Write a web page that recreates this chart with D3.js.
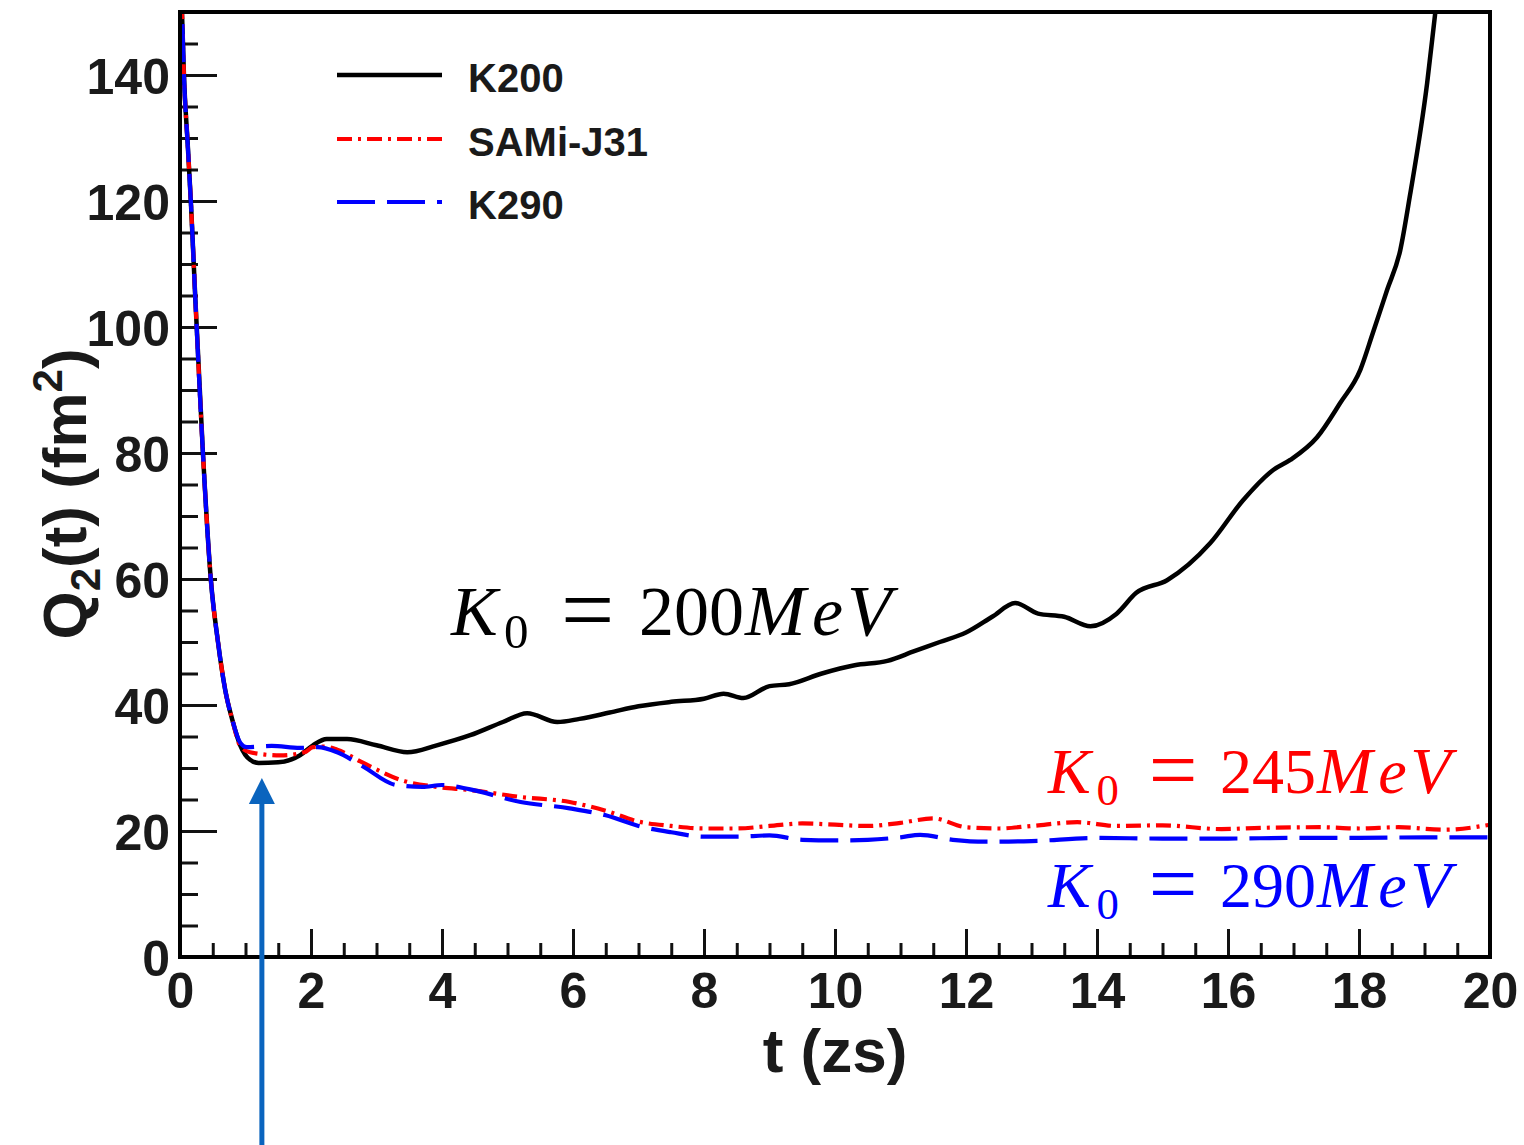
<!DOCTYPE html>
<html>
<head>
<meta charset="utf-8">
<script src="https://cdn.jsdelivr.net/npm/d3@7"></script>
<style>
  html, body { margin: 0; padding: 0; background: #fff; }
  svg { display: block; }
</style>
</head>
<body>
<svg id="chart" width="1524" height="1145"></svg>
<script>
// Quadrupole moment Q2(t) versus time for three equations of state
const seriesNames = ["K200", "SAMi-J31", "K290"];

const tK200 = [0, 0.03, 0.06, 0.12, 0.17, 0.23, 0.35, 0.47, 0.58, 0.69, 0.8, 0.92, 1.07, 1.2, 1.5,
  1.83, 2.03, 2.24, 2.55, 3.0, 3.47, 3.92, 4.43, 4.93, 5.3, 5.76, 6.1, 6.56, 7.0, 7.5, 8.0, 8.3,
  8.6, 9.0, 9.3, 9.8, 10.3, 10.8, 11.2, 11.6, 12.0, 12.4, 12.75, 13.1, 13.5, 13.9, 14.3, 14.6,
  15.07, 15.73, 16.23, 16.69, 16.95, 17.36, 17.71, 18.02, 18.21, 18.43, 18.63, 18.78, 19.04, 19.16, 19.3];
const qK200 = [156, 150, 140, 128.6, 119, 105.4, 80, 60, 50, 42.4, 37.6, 33.6, 31.3, 30.8, 30.9,
  32, 33.6, 34.6, 34.6, 33.6, 32.5, 33.6, 35.2, 37.3, 38.7, 37.3, 37.8, 38.8, 39.8, 40.5, 41, 41.8,
  41.1, 43, 43.3, 45, 46.3, 47, 48.5, 50, 51.5, 54, 56.2, 54.5, 54, 52.5, 54.5, 57.8,
  59.8, 65.7, 72.5, 77.3, 78.9, 82.5, 87.9, 93.2, 99, 105.9, 112.2, 121, 138.7, 149.5, 162];

const tSAMi = [0, 0.03, 0.06, 0.12, 0.17, 0.23, 0.35, 0.47, 0.58, 0.69, 0.8, 0.92, 1.07, 1.53,
  1.9, 2.03, 2.2, 2.4, 2.8, 3.4, 3.92, 4.43, 5.2, 5.95, 6.5, 7.0, 7.5, 8.0, 8.5, 9.0, 9.5, 10.0,
  10.5, 11.0, 11.5, 12.0, 12.5, 13.0, 13.7, 14.3, 15.0, 15.9, 16.5, 17.4, 18.0, 18.6, 19.3, 20];
const qSAMi = [156, 150, 140, 128.6, 119, 105.4, 80, 60, 50, 42.4, 37.6, 33.5, 32.5, 32,
  32.5, 33.3, 33.4, 32.9, 30.8, 28, 27, 26.5, 25.4, 24.6, 23.2, 21.5, 20.8, 20.4, 20.4, 20.8, 21.2, 21,
  20.8, 21.3, 22, 20.6, 20.4, 20.8, 21.4, 20.8, 20.9, 20.3, 20.5, 20.6, 20.4, 20.6, 20.2, 21];

const tK290 = [0, 0.03, 0.06, 0.12, 0.17, 0.23, 0.35, 0.47, 0.58, 0.69, 0.8, 0.92, 1.02, 1.4,
  1.83, 2.1, 2.4, 2.8, 3.3, 3.7, 4.0, 4.43, 5.2, 5.95, 6.5, 7.0, 7.5, 8.0, 8.5, 9.0, 9.5, 10.0,
  10.5, 11.0, 11.3, 11.8, 12.3, 13.0, 14.0, 15.0, 16.0, 17.0, 18.0, 19.0, 20];
const qK290 = [156, 150, 140, 128.6, 119, 105.4, 80, 60, 50, 42.4, 37.6, 34, 33.3, 33.5,
  33.2, 33.3, 32.5, 30.2, 27.3, 27, 27.3, 26.6, 24.6, 23.6, 22.5, 20.8, 19.8, 19.1, 19.1, 19.3, 18.6, 18.5,
  18.6, 19, 19.4, 18.6, 18.3, 18.4, 18.9, 18.8, 18.8, 18.9, 18.9, 19, 19];

const xMajorTicks = [0, 2, 4, 6, 8, 10, 12, 14, 16, 18, 20];
const yMajorTicks = [0, 20, 40, 60, 80, 100, 120, 140];

const annotations = [
  { name: "K200", value: "200", color: "#000000" },
  { name: "SAMi-J31", value: "245", color: "#ff0000" },
  { name: "K290", value: "290", color: "#0000ff" }
];

const svg = d3.select("#chart");
const plotLeft = 180, plotRight = 1490, plotTop = 12, plotBottom = 957;

const x = d3.scaleLinear().domain([0, 20]).range([plotLeft, plotRight]);
const y = d3.scaleLinear().domain([0, 150]).range([plotBottom, plotTop]);

const tickFont = "'Liberation Sans', Arial, Helvetica, sans-serif";

svg.append("defs").append("clipPath").attr("id", "plotClip")
  .append("rect").attr("x", plotLeft).attr("y", plotTop)
  .attr("width", plotRight - plotLeft).attr("height", plotBottom - plotTop);

// Y axis: major ticks with labels, minor ticks every 5
const yMinor = d3.range(0, 151, 5).filter(v => v % 20 !== 0);
const yAxisMajor = svg.append("g").attr("transform", `translate(${plotLeft},0)`)
  .call(d3.axisLeft(y).tickValues(yMajorTicks).tickSize(-37).tickPadding(10).tickFormat(d3.format("d")));
const yAxisMinor = svg.append("g").attr("transform", `translate(${plotLeft},0)`)
  .call(d3.axisLeft(y).tickValues(yMinor).tickSize(-18).tickFormat(""));

// X axis: major ticks with labels, minor ticks every 0.5
const xMinor = d3.range(0, 20.01, 0.5).filter(v => v % 2 !== 0);
const xAxisMajor = svg.append("g").attr("transform", `translate(0,${plotBottom})`)
  .call(d3.axisBottom(x).tickValues(xMajorTicks).tickSize(-28).tickPadding(15).tickFormat(d3.format("d")));
const xAxisMinor = svg.append("g").attr("transform", `translate(0,${plotBottom})`)
  .call(d3.axisBottom(x).tickValues(xMinor).tickSize(-14).tickFormat(""));

[yAxisMajor, yAxisMinor, xAxisMajor, xAxisMinor].forEach(g => {
  g.select(".domain").remove();
  g.selectAll(".tick line").attr("stroke", "#111").attr("stroke-width", 3);
  g.selectAll(".tick text").attr("fill", "#1a1a1a").attr("font-family", tickFont)
    .attr("font-weight", "bold").attr("font-size", 50);
});
yAxisMajor.selectAll(".tick text").attr("dy", "0.36em");

// Curves
const line = d3.line().x(d => x(d[0])).y(d => y(d[1])).curve(d3.curveMonotoneX);
const curves = [
  { t: tK200, q: qK200, color: "#000000", width: 4.5, dash: null },
  { t: tSAMi, q: qSAMi, color: "#ff0000", width: 4.2, dash: "15,6,3,6" },
  { t: tK290, q: qK290, color: "#0000ff", width: 4.2, dash: "38,12" }
];
const plot = svg.append("g").attr("clip-path", "url(#plotClip)");
curves.forEach(c => {
  plot.append("path")
    .datum(d3.zip(c.t, c.q))
    .attr("d", line)
    .attr("fill", "none")
    .attr("stroke", c.color)
    .attr("stroke-width", c.width)
    .attr("stroke-linejoin", "round")
    .attr("stroke-dasharray", c.dash);
});

// Frame
svg.append("rect").attr("x", plotLeft).attr("y", plotTop)
  .attr("width", plotRight - plotLeft).attr("height", plotBottom - plotTop)
  .attr("fill", "none").attr("stroke", "#000").attr("stroke-width", 4);

// Legend
const legend = svg.append("g");
const legendY = [75, 139, 202];
curves.forEach((c, i) => {
  legend.append("line").attr("x1", 337).attr("x2", 442).attr("y1", legendY[i]).attr("y2", legendY[i])
    .attr("stroke", c.color).attr("stroke-width", c.width).attr("stroke-dasharray", c.dash);
  legend.append("text").attr("x", 468).attr("y", legendY[i] + 17)
    .attr("font-family", tickFont).attr("font-weight", "bold").attr("font-size", 40)
    .attr("fill", "#1a1a1a").text(seriesNames[i]);
});

// Axis titles
svg.append("text").attr("x", (plotLeft + plotRight) / 2).attr("y", 1072).attr("text-anchor", "middle")
  .attr("font-family", tickFont).attr("font-weight", "bold").attr("font-size", 62)
  .attr("fill", "#1a1a1a").text("t (zs)");

const yTitle = svg.append("text").attr("transform", "translate(86,494) rotate(-90)")
  .attr("text-anchor", "middle").attr("font-family", tickFont).attr("font-weight", "bold")
  .attr("font-size", 62).attr("fill", "#1a1a1a");
yTitle.append("tspan").text("Q");
yTitle.append("tspan").attr("font-size", 42).attr("dy", 14).text("2");
yTitle.append("tspan").attr("dy", -14).text("(t) (fm");
yTitle.append("tspan").attr("font-size", 42).attr("dy", -24).text("2");
yTitle.append("tspan").attr("dy", 24).text(")");

// Incompressibility labels, typeset as K_0 = ... MeV (math italic letters, upright digits)
const mathFont = "'Liberation Serif', 'Times New Roman', serif";
const labelPos = [
  { x: 451, y: 635, size: 70, scale: 1 },
  { x: 1048, y: 793, size: 64, scale: 0.915 }
];
labelPos.push({ x: 1048, y: 907, size: 64, scale: 0.915 });
annotations.forEach((a, i) => {
  const p = labelPos[i];
  const pieces = [
    { s: "K", off: 0, italic: true, rel: 1 },
    { s: "0", off: 53, dy: 13, rel: 0.7 },
    { s: "=", off: 110, dy: 7, rel: 1.35 },
    { s: a.value, off: 188, rel: 1 },
    { s: "M", off: 294, italic: true, rel: 1.04 },
    { s: "e", off: 361, italic: true, rel: 1 },
    { s: "V", off: 396, italic: true, rel: 1.04 }
  ];
  const txt = svg.append("text").attr("font-family", mathFont).attr("font-size", p.size).attr("fill", a.color);
  pieces.forEach(pc => {
    txt.append("tspan")
      .attr("x", p.x + pc.off * p.scale)
      .attr("y", p.y + (pc.dy || 0) * p.scale)
      .attr("font-size", p.size * pc.rel)
      .attr("font-style", pc.italic ? "italic" : "normal")
      .text(pc.s);
  });
});

// Arrow marking the first minimum
const arrowX = x(1.25);
const arrowColor = "#0a64be";
svg.append("line").attr("x1", arrowX).attr("x2", arrowX).attr("y1", 1145).attr("y2", 800)
  .attr("stroke", arrowColor).attr("stroke-width", 5);
svg.append("path")
  .attr("d", `M${arrowX},778 L${arrowX - 13},804 L${arrowX + 13},804 Z`)
  .attr("fill", arrowColor);
</script>
</body>
</html>
